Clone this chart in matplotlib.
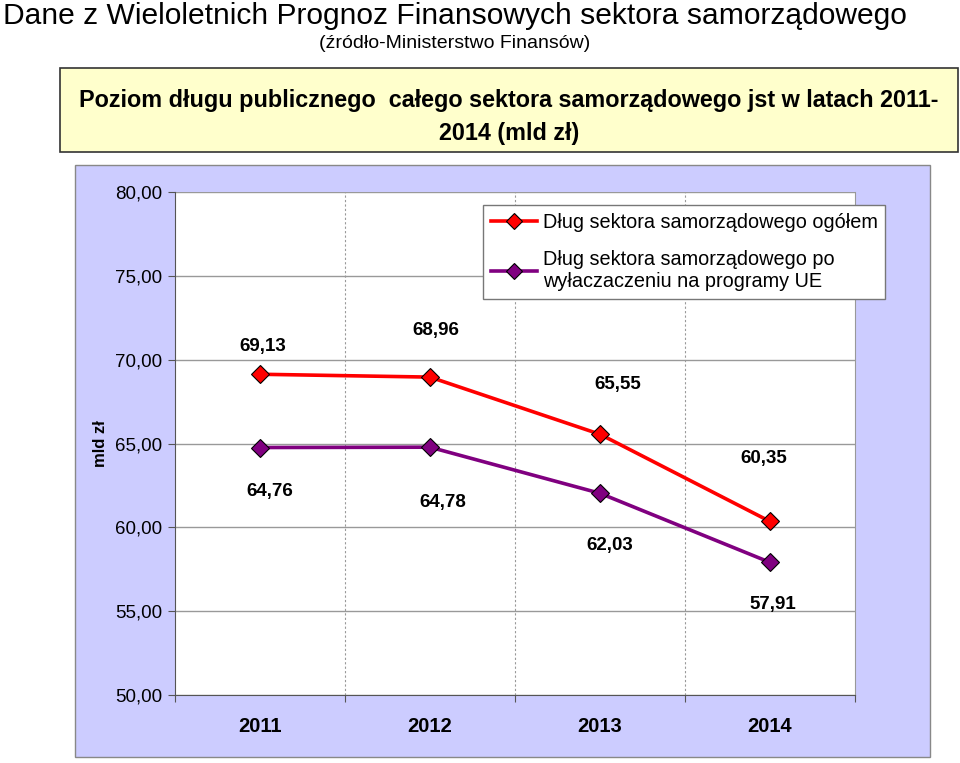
import matplotlib.pyplot as plt
from matplotlib.patches import Rectangle
from matplotlib.lines import Line2D

plt.rcParams['font.family'] = ['Liberation Sans', 'DejaVu Sans']

years = ["2011", "2012", "2013", "2014"]
debt_total = [69.13, 68.96, 65.55, 60.35]
debt_excl_eu = [64.76, 64.78, 62.03, 57.91]
label_total = "Dług sektora samorządowego ogółem"
label_excl = "Dług sektora samorządowego po\nwyłaczaczeniu na programy UE"
y_ticks = [50, 55, 60, 65, 70, 75, 80]


def fmt(v):
    return f"{v:.2f}".replace(".", ",")


def main():
    fig = plt.figure(figsize=(9.6, 7.63), dpi=100)
    W, H = 960, 763

    def box(x0, y0, x1, y1):
        return (x0 / W, 1 - y1 / H, (x1 - x0) / W, (y1 - y0) / H)

    # headings
    fig.text(3 / W, 1 - 24 / H, "Dane z Wieloletnich Prognoz Finansowych sektora samorządowego",
             fontsize=21.6, va="baseline", ha="left")
    fig.text(455 / W, 1 - 44 / H, "(źródło-Ministerstwo Finansów)",
             fontsize=14, va="center", ha="center")

    x, y, w, h = box(60, 68, 958, 152)
    fig.patches.append(Rectangle((x, y), w, h, transform=fig.transFigure, zorder=-2,
                                 facecolor="#FFFFCC", edgecolor="#333333", lw=1.2))
    fig.text(509 / W, 1 - 117 / H,
             "Poziom długu publicznego  całego sektora samorządowego jst w latach 2011-\n2014 (mld zł)",
             fontsize=16.8, fontweight="bold", ha="center", va="center", linespacing=1.55)

    x, y, w, h = box(75, 165, 930, 757)
    fig.patches.append(Rectangle((x, y), w, h, transform=fig.transFigure, zorder=-2,
                                 facecolor="#CCCCFF", edgecolor="#888888", lw=1))

    ax = fig.add_axes(box(175, 192, 855, 695))
    ax.set_facecolor("white")
    xs = range(len(years))

    ax.plot(xs, debt_total, color="#FF0000", lw=2.6, marker="D", ms=9,
            mfc="#FF0000", mec="black", mew=0.8, label=label_total, zorder=3)
    ax.plot(xs, debt_excl_eu, color="#800080", lw=2.6, marker="D", ms=9,
            mfc="#800080", mec="black", mew=0.8, label=label_excl, zorder=3)

    above = [(3, 28), (6, 47), (18, 50), (-6, 63)]
    for i, v in enumerate(debt_total):
        ax.annotate(fmt(v), (i, v), xytext=above[i], textcoords="offset pixels",
                    ha="center", va="center", fontsize=13.5, fontweight="bold")
    below = [(10, -44), (13, -55), (10, -52), (3, -42)]
    for i, v in enumerate(debt_excl_eu):
        ax.annotate(fmt(v), (i, v), xytext=below[i], textcoords="offset pixels",
                    ha="center", va="center", fontsize=13.5, fontweight="bold")

    ax.set_xlim(-0.5, 3.5)
    ax.set_ylim(50, 80)
    ax.set_yticks(y_ticks)
    ax.set_yticklabels([fmt(t) for t in y_ticks], fontsize=13.5)
    ax.set_xticks([-0.5, 0.5, 1.5, 2.5, 3.5])
    ax.set_xticklabels([])
    ax.set_xticks(list(xs), minor=True)
    ax.set_xticklabels(years, minor=True, fontsize=14.5, fontweight="bold")
    ax.tick_params(axis="x", which="minor", length=0, pad=16)
    ax.tick_params(axis="x", which="major", length=5, color="#555555")
    ax.tick_params(axis="y", length=5, color="#555555", pad=4)

    ax.grid(axis="y", color="#999999", lw=1)
    for xv in [0.5, 1.5, 2.5]:
        ax.axvline(xv, color="#999999", lw=0.8, ls=(0, (2, 2)), zorder=0)
    ax.set_axisbelow(True)
    ax.spines["top"].set_visible(False)
    ax.spines["right"].set_color("#999999")
    for s in ["left", "bottom"]:
        ax.spines[s].set_color("#555555")

    ax.set_ylabel("mld zł", fontsize=12, fontweight="bold", labelpad=5)

    handles = [Line2D([], [], color="#FF0000", lw=2.6, marker="D", ms=8, mfc="#FF0000",
                      mec="black", mew=0.8),
               Line2D([], [], color="#800080", lw=2.6, marker="D", ms=8, mfc="#800080",
                      mec="black", mew=0.8)]
    leg = ax.legend(handles, [label_total, label_excl], loc="upper left",
                    bbox_to_anchor=((483 - 175) / 680, (695 - 205) / 503),
                    fontsize=14.3, frameon=True, fancybox=False, framealpha=1,
                    edgecolor="#777777", handlelength=2.3, handletextpad=0.3,
                    labelspacing=0.9, borderaxespad=0, borderpad=0.4)
    leg.get_frame().set_linewidth(1)
    leg.set_zorder(5)

    fig.savefig("out.png", dpi=100)


if __name__ == "__main__":
    main()
